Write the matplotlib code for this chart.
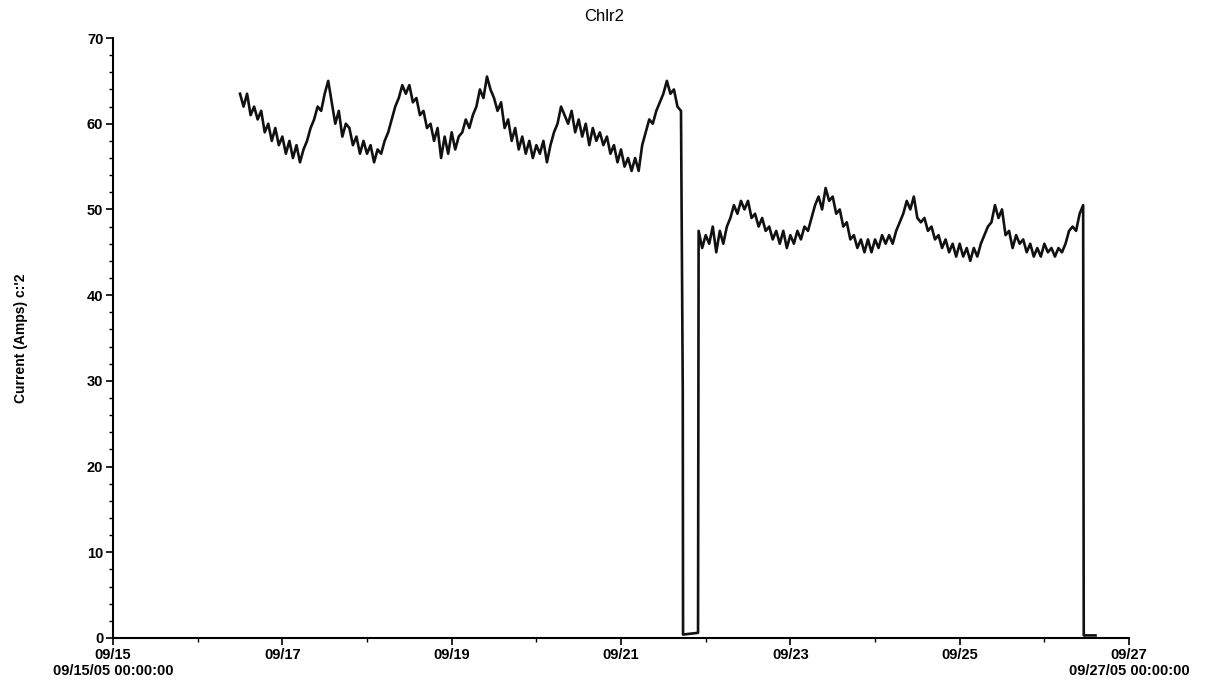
# Corrente do Chlr2 ao longo de 15/09 a 27/09 (leitura aproximada do gráfico original)

import pandas as pd
import matplotlib.pyplot as plt
import matplotlib.dates as mdates
from matplotlib.ticker import MultipleLocator

# Primeiro trecho: leituras horárias a partir de 16/09 12:00
inicio_1 = '2005-09-16 12:00'
corrente_1 = [
    63.5, 62, 63.5, 61, 62, 60.5, 61.5, 59, 60, 58, 59.5, 57.5,
    58.5, 56.5, 58, 56, 57.5, 55.5, 57, 58, 59.5, 60.5, 62, 61.5,
    63.5, 65, 62.5, 60, 61.5, 58.5, 60, 59.5, 57.5, 58.5, 56.5, 58,
    56.5, 57.5, 55.5, 57, 56.5, 58, 59, 60.5, 62, 63, 64.5, 63.5,
    64.5, 62.5, 63, 61, 61.5, 59.5, 60, 58, 59.5, 56, 58.5, 56.5,
    59, 57, 58.5, 59, 60.5, 59.5, 61, 62, 64, 63, 65.5, 64,
    63, 61.5, 62.5, 59.5, 60.5, 58, 59.5, 57, 58.5, 56.5, 58, 56,
    57.5, 56.5, 58, 55.5, 57.5, 59, 60, 62, 61, 60, 61.5, 59,
    60.5, 58.5, 60, 57.5, 59.5, 58, 59, 57.5, 58.5, 56.5, 57.5, 55.5,
    57, 55, 56, 54.5, 56, 54.5, 57.5, 59, 60.5, 60, 61.5, 62.5,
    63.5, 65, 63.5, 64, 62, 61.5,
]

# Queda e período parado entre os dois trechos
parada_1_horas = ['2005-09-21 17:30', '2005-09-21 17:35', '2005-09-21 21:50']
parada_1_valores = [29, 0.4, 0.6]

# Segundo trecho: leituras horárias a partir de 21/09 22:00
inicio_2 = '2005-09-21 22:00'
corrente_2 = [
    47.5, 45.5, 47, 46, 48, 45, 47.5, 46, 48, 49, 50.5, 49.5,
    51, 50, 51, 49, 49.5, 48, 49, 47.5, 48, 46.5, 47.5, 46,
    47.5, 45.5, 47, 46, 47.5, 46.5, 48, 47.5, 49, 50.5, 51.5, 50,
    52.5, 51, 51.5, 49.5, 50, 48, 48.5, 46.5, 47, 45.5, 46.5, 45,
    46.5, 45, 46.5, 45.5, 47, 46, 47, 46, 47.5, 48.5, 49.5, 51,
    50, 51.5, 49, 48.5, 49, 47.5, 48, 46.5, 47, 45.5, 46.5, 45,
    46, 44.5, 46, 44.5, 45.5, 44, 45.5, 44.5, 46, 47, 48, 48.5,
    50.5, 49, 50, 47, 47.5, 45.5, 47, 46, 46.5, 45, 46, 44.5,
    45.5, 44.5, 46, 45, 45.5, 44.5, 45.5, 45, 46, 47.5, 48, 47.5,
    49.5, 50.5,
]

# Desligamento no final
parada_2_horas = ['2005-09-26 11:05', '2005-09-26 11:10', '2005-09-26 14:30']
parada_2_valores = [24, 0.3, 0.3]

# Monta uma série única
s1 = pd.Series(corrente_1, index=pd.date_range(inicio_1, periods=len(corrente_1), freq='h'))
p1 = pd.Series(parada_1_valores, index=pd.to_datetime(parada_1_horas))
s2 = pd.Series(corrente_2, index=pd.date_range(inicio_2, periods=len(corrente_2), freq='h'))
p2 = pd.Series(parada_2_valores, index=pd.to_datetime(parada_2_horas))
serie = pd.concat([s1, p1, s2, p2])

plt.rcParams['font.family'] = ['Liberation Sans', 'DejaVu Sans']

fig = plt.figure(figsize=(12.14, 6.99), dpi=100)
ax = fig.add_axes([0.0931, 0.0873, 0.8369, 0.8583])

ax.plot(serie.index, serie.values, color='#111111', linewidth=1.9)

ax.set_xlim(pd.Timestamp('2005-09-15'), pd.Timestamp('2005-09-27'))
ax.set_ylim(0, 70)

# Eixos no estilo do original: só esquerda e baixo
ax.spines['top'].set_visible(False)
ax.spines['right'].set_visible(False)
ax.spines['left'].set_linewidth(1.5)
ax.spines['bottom'].set_linewidth(1.5)

ax.yaxis.set_major_locator(MultipleLocator(10))
ax.yaxis.set_minor_locator(MultipleLocator(2))

marcas = pd.date_range('2005-09-15', '2005-09-27', freq='2D')
rotulos = [d.strftime('%m/%d') for d in marcas]
rotulos[0] = rotulos[0] + '\n09/15/05 00:00:00'
rotulos[-1] = rotulos[-1] + '\n09/27/05 00:00:00'
ax.set_xticks(marcas)
ax.set_xticklabels(rotulos)
ax.xaxis.set_minor_locator(mdates.DayLocator())

ax.tick_params(which='major', length=5, width=1.2, labelsize=10.5, pad=2)
ax.tick_params(which='minor', length=3, width=1)
for lbl in ax.get_xticklabels() + ax.get_yticklabels():
    lbl.set_fontweight('bold')

ax.set_ylabel("Current (Amps) c:'2", fontsize=10, fontweight='bold')
ax.yaxis.set_label_coords(-0.084, 0.5)
fig.text(0.498, 0.977, 'Chlr2', ha='center', va='center', fontsize=12)

plt.savefig('out.png', dpi=100)
plt.close()
